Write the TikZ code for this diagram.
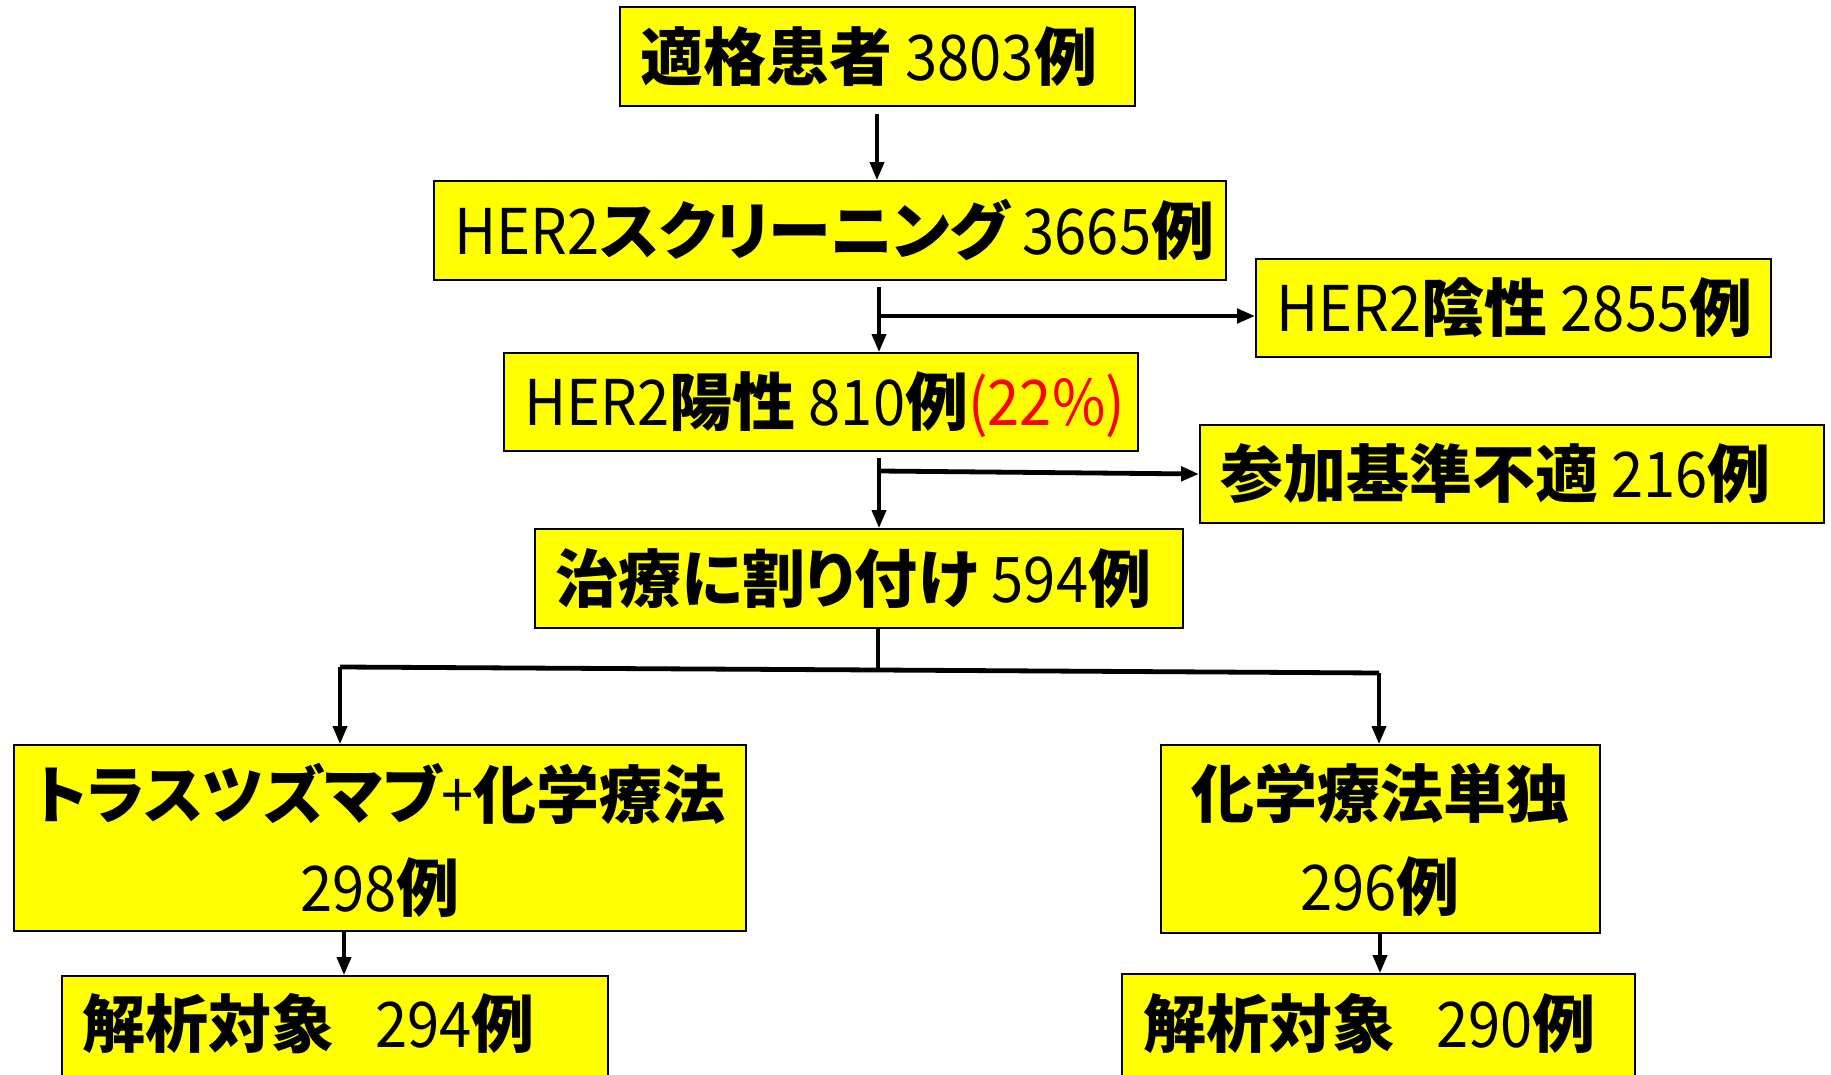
\documentclass[tikz,border=0pt]{standalone}
\usepackage{fontspec}
\usetikzlibrary{arrows.meta}
\setmainfont{Noto Sans CJK JP}[FakeStretch=0.92]
\newfontfamily\jpfam{Noto Sans CJK JP}[RawFeature={+palt}]
\newcommand\jpbf[1]{{\jpfam\bfseries #1}}
\definecolor{boxyellow}{HTML}{FFFF00}
\definecolor{pctred}{HTML}{FF0000}
\begin{document}
\begin{tikzpicture}[x=0.5pt,y=-0.5pt,
  box/.style={draw=black, line width=0.9pt, fill=boxyellow, inner sep=0pt},
  txt/.style={inner sep=0pt, font=\fontsize{31.5}{46.5}\selectfont, text height=27.7pt, text depth=3.8pt},
  conn/.style={line width=1.8pt, draw=black},
  hconn/.style={line width=2.4pt, draw=black},
  arr/.style={-{Triangle[length=9pt,width=7pt]}}
]
\useasboundingbox (0,0) rectangle (1831,1075);

% boxes
\node[box, minimum width=257.5pt, minimum height=49.5pt] (b1) at (877.5,56.5) {};
\node[box, minimum width=396pt, minimum height=49.5pt] (b2) at (830,230.5) {};
\node[box, minimum width=257.5pt, minimum height=49pt] (b3) at (1513.5,308) {};
\node[box, minimum width=317pt, minimum height=49pt] (b4) at (821,402) {};
\node[box, minimum width=312pt, minimum height=49pt] (b5) at (1512,474) {};
\node[box, minimum width=324pt, minimum height=49.5pt] (b6) at (859,578.5) {};
\node[box, minimum width=366pt, minimum height=93pt] (b7) at (380,838) {};
\node[box, minimum width=219.5pt, minimum height=94pt] (b8) at (1380.5,839) {};
\node[box, minimum width=273pt, minimum height=51pt] (b9) at (335,1027) {};
\node[box, minimum width=256.5pt, minimum height=52pt] (b10) at (1378.5,1026) {};

% texts
\node[txt, anchor=west] (t1) at (640,56.5) {\jpbf{適格患者} 3803\jpbf{例}};
\node[txt, anchor=west] (t2) at (454,230.5) {HER2\jpbf{スクリーニング} 3665\jpbf{例}};
\node[txt, anchor=west] (t3) at (1276,308) {HER2\jpbf{陰性} 2855\jpbf{例}};
\node[txt, anchor=west] (t4) at (524,402) {HER2\jpbf{陽性} 810\jpbf{例}\textcolor{pctred}{(22\%)}};
\node[txt, anchor=west] (t5) at (1220,474) {\jpbf{参加基準不適} 216\jpbf{例}};
\node[txt, anchor=west] (t6) at (555,578.5) {\jpbf{治療に割り付け} 594\jpbf{例}};
\node[txt, align=center, text height=, text depth=] (t7) at (380,840) {\jpbf{トラスツズマブ}+\jpbf{化学療法}\\298\jpbf{例}};
\node[txt, align=center, text height=, text depth=] (t8) at (1380,840) {\jpbf{化学療法単独}\\296\jpbf{例}};
\node[txt, anchor=west] (t9) at (82,1024) {\jpbf{解析対象}\hspace{0.65em}294\jpbf{例}};
\node[txt, anchor=west] (t10) at (1143,1024) {\jpbf{解析対象}\hspace{0.65em}290\jpbf{例}};

% connector coordinates
\coordinate (c1) at (877,113);
\coordinate (c2) at (879,316);
\coordinate (c4) at (879,471);
\coordinate (c6) at (878,670);
\coordinate (lc) at (340,667);
\coordinate (rc) at (1379,673);
\coordinate (c7) at (344,931);
\coordinate (c8) at (1380,933);

% connectors
\draw[conn, arr, shorten <=3.5pt] (c1 |- b1.south) -- (c1 |- b2.north);
\draw[conn, shorten <=3pt] (c2 |- b2.south) -- (c2);
\draw[conn, arr] (c2) -- (c2 |- b4.north);
\draw[hconn, arr] (c2) -- (c2 -| b3.west);
\draw[conn, shorten <=3pt] (c4 |- b4.south) -- (c4);
\draw[conn, arr] (c4) -- (c4 |- b6.north);
\draw[hconn, arr] (c4) -- (b5.west);
\draw[conn] (c6 |- b6.south) -- (c6);
\draw[hconn] (c6) -- (lc);
\draw[hconn] (c6) -- (rc);
\draw[conn, arr] (lc) -- (lc |- b7.north);
\draw[conn, arr] (rc) -- (rc |- b8.north);
\draw[conn, arr] (c7) -- (c7 |- b9.north);
\draw[conn, arr] (c8) -- (c8 |- b10.north);
\end{tikzpicture}
\end{document}
